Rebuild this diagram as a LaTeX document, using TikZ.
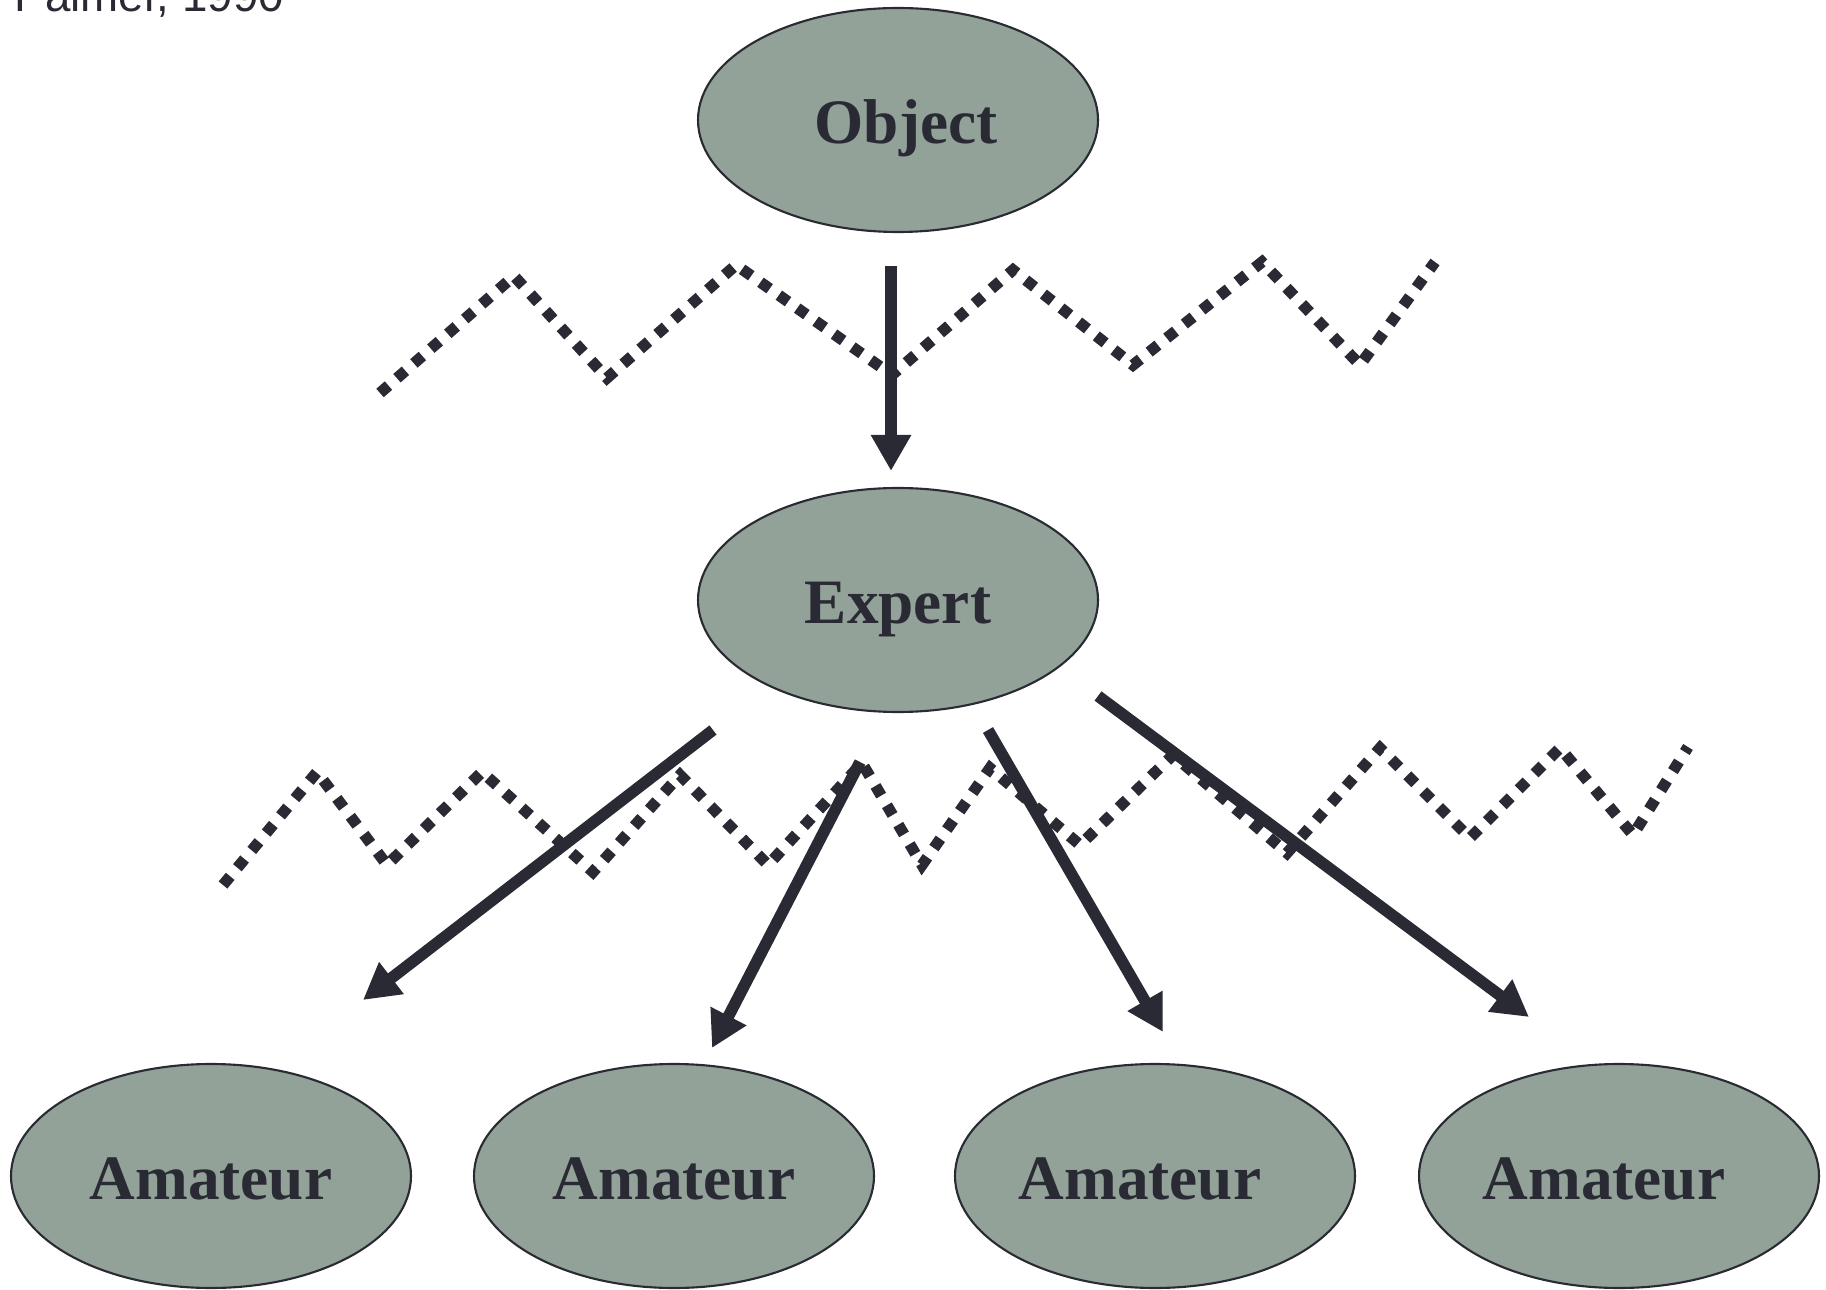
\documentclass[tikz,border=0pt]{standalone}
\usepackage{fontspec}
\setmainfont{Liberation Serif}
\setsansfont{Liberation Sans}
\usetikzlibrary{arrows.meta,shapes.geometric,calc}
\definecolor{ink}{HTML}{2A2A34}
\definecolor{sage}{HTML}{92A298}
\tikzset{>={Triangle[length=3.6mm,width=3.8mm]}}
\tikzset{
  blob/.style={ellipse,draw=ink,line width=0.6pt,fill=sage,
    minimum width=4cm,minimum height=2.24cm,inner sep=0pt,
    text height=13.6pt,text depth=0pt,
    font=\fontsize{18}{20}\selectfont\bfseries,text=ink},
  flow/.style={->,draw=ink,line width=3.3pt},
  wiggle/.style={draw=ink,line width=3.2pt,dash pattern=on 3.2pt off 3.2pt}
}

\begin{document}
\begin{tikzpicture}[x=0.1mm,y=-0.1mm]
\useasboundingbox (0,0) rectangle (1826,1290);
\node[anchor=base west,inner sep=0pt,text=ink,
      font=\sffamily\fontsize{13}{15}\selectfont] (src) at (14,12) {Palmer, 1990};
\node[blob] (obj) at (898,120) {\rule{1.6mm}{0pt}Object};
\node[blob] (expert) at (898,600) {Expert};
\foreach \x/\s [count=\i] in {211/0,674/0,1155/3,1619/3}
  \node[blob] (am\i) at (\x,1176) {Amateur\rule{\s mm}{0pt}};
\draw[wiggle] (380,393) -- (514,276) -- (607,378) -- (736,265) -- (892,375) --
              (1013,270) -- (1133,365) -- (1262,262) -- (1360,365) -- (1435,262);
\draw[wiggle] (223,885) -- (317,772) -- (387,865) -- (482,772) -- (593,872) --
              (680,775) -- (768,865) -- (862,763) -- (922,865) -- (990,768) --
              (1080,845) -- (1173,755) -- (1287,853) -- (1380,748) -- (1470,838) --
              (1560,748) -- (1633,835) -- (1688,747);
\coordinate (o1) at ($(obj.south)+(-7,33)$);
\coordinate (e0) at ($(expert.north)+(-7,-16)$);
\coordinate (e1) at ($(expert)+(-185,130)$);
\coordinate (e2) at ($(expert)+(-38,162)$);
\coordinate (e3) at ($(expert)+(90,130)$);
\coordinate (e4) at ($(expert)+(200,96)$);
\coordinate (a1) at ($(am1)+(152,-176)$);
\coordinate (a2) at ($(am2)+(38,-128)$);
\coordinate (a3) at ($(am3)+(8,-144)$);
\coordinate (a4) at ($(am4)+(-90,-159)$);
\draw[flow] (o1) -- (e0);
\foreach \i in {1,...,4}
  \draw[flow] (e\i) -- (a\i);
\end{tikzpicture}
\end{document}
